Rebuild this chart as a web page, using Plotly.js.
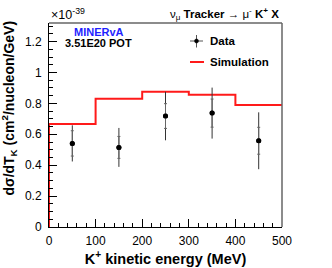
<!DOCTYPE html>
<html>
<head>
<meta charset="utf-8">
<script src="https://cdn.plot.ly/plotly-3.0.1.min.js"></script>
<style>
  html, body { margin: 0; padding: 0; background: #fff; }
  #chart { width: 332px; height: 268px; }
</style>
</head>
<body>
<div id="chart"></div>
<script>
// Simulation histogram (bin edges in MeV, values in 1e-39 cm^2/nucleon/GeV)
const binEdges = [0, 100, 200, 300, 400, 500];
const simValues = [0.666, 0.830, 0.875, 0.856, 0.789];

// Data points
const dataX = [50, 150, 250, 350, 450];
const dataY = [0.541, 0.515, 0.718, 0.737, 0.558];
const dataErrTotal = [0.117, 0.126, 0.157, 0.165, 0.184];
const dataErrStat = [0.082, 0.071, 0.080, 0.091, 0.087];

const xTickVals = [0, 100, 200, 300, 400, 500];
const yTickVals = [0, 0.2, 0.4, 0.6, 0.8, 1.0, 1.2];
const yTickText = ['0', '0.2', '0.4', '0.6', '0.8', '1', '1.2'];

// Build step outline from the histogram arrays
const stepX = [binEdges[0]];
const stepY = [0];
for (let i = 0; i < simValues.length; i++) {
  stepX.push(binEdges[i]);
  stepY.push(simValues[i]);
}
stepX.push(binEdges[binEdges.length - 1]);
stepY.push(simValues[simValues.length - 1]);

const FONT = 'Liberation Sans, Arial, Helvetica, sans-serif';

const traces = [
  {
    x: stepX, y: stepY, type: 'scatter', mode: 'lines',
    line: { shape: 'hv', color: '#ff1a1a', width: 2 },
    name: 'Simulation', showlegend: false, hoverinfo: 'skip'
  },
  {
    x: dataX, y: dataY, type: 'scatter', mode: 'markers',
    marker: { color: '#000', size: 5 },
    error_y: { type: 'data', array: dataErrTotal, visible: true, color: '#333', thickness: 1, width: 0 },
    name: 'Data', showlegend: false
  },
  {
    x: dataX, y: dataY, type: 'scatter', mode: 'markers',
    marker: { color: '#000', size: 5 },
    error_y: { type: 'data', array: dataErrStat, visible: true, color: '#666', thickness: 1, width: 1.5 },
    name: 'Data (stat)', showlegend: false
  }
];

function px2x(p) { return (p - 49) / 233; }
function px2y(p) { return (227 - p) / 204; }

const layout = {
  width: 332, height: 268,
  margin: { l: 49, r: 50, t: 23, b: 41 },
  paper_bgcolor: '#fff', plot_bgcolor: '#fff',
  font: { family: FONT, color: '#000', size: 12 },
  showlegend: false,
  xaxis: {
    range: [0, 500], tickvals: xTickVals, ticks: 'inside', ticklen: 8, tickcolor: '#000', tickwidth: 1,
    minor: { dtick: 20, ticks: 'inside', ticklen: 4, tickcolor: '#000' },
    showline: true, linecolor: '#000', linewidth: 1, showgrid: false, zeroline: false,
    tickfont: { family: FONT, size: 12, color: '#000' },
    ticklabelstandoff: 3,
    title: { text: '<b>K<sup>+</sup> kinetic energy (MeV)</b>', font: { family: FONT, size: 14.5, color: '#000' }, standoff: 6 },
    fixedrange: true
  },
  yaxis: {
    range: [0, 1.32], tickvals: yTickVals, ticktext: yTickText, ticks: 'inside', ticklen: 8, tickcolor: '#000', tickwidth: 1,
    minor: { dtick: 0.05, ticks: 'inside', ticklen: 4, tickcolor: '#000' },
    showline: true, linecolor: '#000', linewidth: 1, showgrid: false, zeroline: false,
    tickfont: { family: FONT, size: 12, color: '#000' },
    ticklabelstandoff: 4,
    fixedrange: true
  },
  shapes: [
    { type: 'line', xref: 'paper', yref: 'paper', x0: 0, x1: 1, y0: 1, y1: 1, line: { color: '#666', width: 1.5 } },
    { type: 'line', xref: 'paper', yref: 'paper', x0: 1, x1: 1, y0: 0, y1: 1, line: { color: '#666', width: 1.5 } },
    // legend: data cross
    { type: 'line', xref: 'paper', yref: 'paper', x0: px2x(190), x1: px2x(203), y0: px2y(41), y1: px2y(41), line: { color: '#555', width: 1 } },
    { type: 'line', xref: 'paper', yref: 'paper', x0: px2x(196.5), x1: px2x(196.5), y0: px2y(35), y1: px2y(47.5), line: { color: '#555', width: 1 } },
    { type: 'circle', xref: 'paper', yref: 'paper', x0: px2x(194.5), x1: px2x(198.5), y0: px2y(39), y1: px2y(43), fillcolor: '#000', line: { color: '#000', width: 0.5 } },
    // legend: simulation line
    { type: 'line', xref: 'paper', yref: 'paper', x0: px2x(190), x1: px2x(204), y0: px2y(62), y1: px2y(62), line: { color: '#ff1a1a', width: 2 } }
  ],
  annotations: [
    { xref: 'paper', yref: 'paper', x: px2x(208), y: px2y(41), xanchor: 'left', yanchor: 'middle', showarrow: false,
      text: '<b>Data</b>', font: { family: FONT, size: 11.5, color: '#000' } },
    { xref: 'paper', yref: 'paper', x: px2x(208), y: px2y(62), xanchor: 'left', yanchor: 'middle', showarrow: false,
      text: '<b>Simulation</b>', font: { family: FONT, size: 11.5, color: '#000' } },
    { xref: 'paper', yref: 'paper', x: px2x(99), y: px2y(32), xanchor: 'center', yanchor: 'middle', showarrow: false,
      text: '<b>MINERvA</b>', font: { family: FONT, size: 11, color: '#1f1fff' } },
    { xref: 'paper', yref: 'paper', x: px2x(98), y: px2y(43), xanchor: 'center', yanchor: 'middle', showarrow: false,
      text: '<b>3.51E20 POT</b>', font: { family: FONT, size: 11, color: '#000' } },
    { xref: 'paper', yref: 'paper', x: px2x(281), y: px2y(14.5), xanchor: 'right', yanchor: 'middle', showarrow: false,
      text: 'ν<sub>μ</sub> <b>Tracker</b> → μ<sup>-</sup> <b>K<sup>+</sup> X</b>', font: { family: FONT, size: 11.5, color: '#000' } },
    { xref: 'paper', yref: 'paper', x: px2x(49), y: px2y(24), xanchor: 'left', yanchor: 'bottom', showarrow: false,
      text: '×10<sup>-39</sup>', font: { family: FONT, size: 12.5, color: '#000' } },
    { xref: 'paper', yref: 'paper', x: px2x(10), y: px2y(108.5), xanchor: 'center', yanchor: 'middle', showarrow: false,
      textangle: -90,
      text: '<b>dσ/dT<sub>K</sub> (cm<sup>2</sup>/nucleon/GeV)</b>', font: { family: FONT, size: 14, color: '#000' } }
  ]
};

Plotly.newPlot('chart', traces, layout, { displayModeBar: false });
</script>
</body>
</html>
